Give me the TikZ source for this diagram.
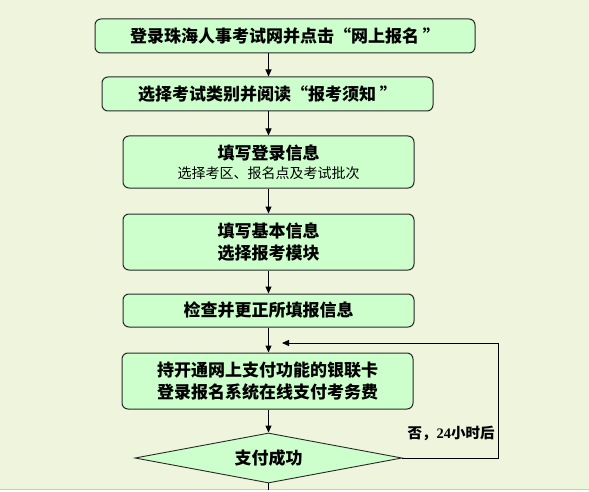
\documentclass[tikz,border=0pt]{standalone}
\usepackage{fontspec}
\newfontfamily\cjk{Noto Sans CJK SC}
\newfontfamily\latinnum{Liberation Serif}
\usetikzlibrary{shapes.geometric,arrows.meta}
\definecolor{bgc}{RGB}{239,244,221}
\definecolor{boxfill}{RGB}{204,255,204}
\definecolor{edgec}{RGB}{40,40,40}
\begin{document}
\begin{tikzpicture}[x=1pt,y=-1pt,
  flowbox/.style={draw=edgec,line width=1pt,fill=boxfill,rounded corners=6pt,
    inner sep=0pt,align=center,font=\cjk\bfseries\fontsize{17}{21.5}\selectfont},
  decide/.style={draw=edgec,line width=0.9pt,fill=boxfill,diamond,aspect=5.34,
    inner sep=0pt,minimum width=267pt,minimum height=50pt,
    font=\cjk\bfseries\fontsize{17}{20}\selectfont},
  link/.style={draw=black,line width=1pt,-{Triangle[length=7pt,width=6pt]}},
  note/.style={inner sep=0pt,font=\cjk\bfseries\fontsize{14.5}{18}\selectfont}]
\useasboundingbox (0,0) rectangle (589,492);
\fill[bgc] (0,0) rectangle (589,489.5);
\fill[white] (0,489.5) rectangle (589,492);
\draw[color={rgb,255:red,200;green,200;blue,200},line width=1pt] (0,489.5) -- (589,489.5);

\node[flowbox,minimum width=380pt,minimum height=34pt] (b1) at (285,36)
  {登录珠海人事考试网并点击“网上报名 ”};
\node[flowbox,minimum width=331pt,minimum height=34pt] (b2) at (267.5,94)
  {选择考试类别并阅读“报考须知 ”};
\node[flowbox,minimum width=291pt,minimum height=52pt] (b3) at (268.5,162)
  {填写登录信息\\[-2pt]{\mdseries\fontsize{14}{18}\selectfont 选择考区、报名点及考试批次}};
\node[flowbox,minimum width=291pt,minimum height=56pt] (b4) at (268.5,242)
  {填写基本信息\\选择报考模块};
\node[flowbox,minimum width=291pt,minimum height=33pt] (b5) at (268.5,310.5)
  {检查并更正所填报信息};
\node[flowbox,minimum width=291pt,minimum height=56pt] (b6) at (267.5,381)
  {持开通网上支付功能的银联卡\\登录报名系统在线支付考务费};
\node[decide] (d1) at (268.5,458) {支付成功};

\coordinate (c1) at (498,458);
\coordinate (c2) at (498,343);
\coordinate (c3) at (282,343);
\coordinate (cend) at (268.5,489.5);

\draw[link] (b1.south -| b3.north) -- (b2.north -| b3.north);
\draw[link] (b2.south -| b3.north) -- (b3.north);
\draw[link] (b3) -- (b4);
\draw[link] (b4) -- (b5);
\draw[link] (b5.south -| d1.north) -- (b6.north -| d1.north);
\draw[link] (b6.south -| d1.north) -- (d1.north);
\draw[link] (d1.east) -- (c1) -- (c2) -- (c3);
\draw[line width=1pt] (d1.south) -- (cend);

\node[note] (n1) at (451,433) {否，{\latinnum\bfseries 24}小时后};
\end{tikzpicture}
\end{document}
